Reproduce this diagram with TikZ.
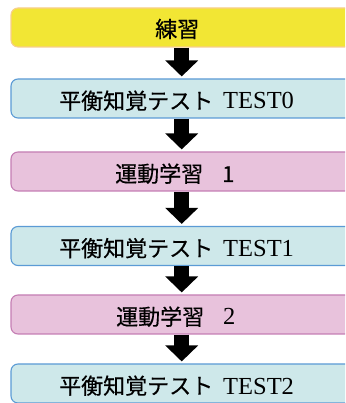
\documentclass[tikz,border=0pt]{standalone}
\usepackage{fontspec}
\setmainfont{Liberation Serif}
\newfontfamily\jpfont[FakeBold=0.5]{Noto Sans CJK JP}
\usetikzlibrary{arrows.meta,calc}
\definecolor{yfill}{HTML}{F2E634}
\definecolor{ydraw}{HTML}{F7CE8C}
\definecolor{bfill}{HTML}{CEE8EA}
\definecolor{bdraw}{HTML}{5B9BD5}
\definecolor{pfill}{HTML}{E8C2DC}
\definecolor{pdraw}{HTML}{C47DB3}
\newcommand\jtxt[1]{{\jpfont\fontsize{22}{26}\selectfont #1}}
\newcommand\etxt[1]{{\fontsize{24.5}{28}\selectfont #1}}
\begin{document}
\begin{tikzpicture}[x=1pt,y=1pt,
  box/.style={rectangle,rounded corners=7pt,minimum width=360pt,minimum height=39pt,line width=1.1pt,inner sep=0pt},
  ybox/.style={box,fill=yfill,draw=ydraw},
  bbox/.style={box,fill=bfill,draw=bdraw},
  pbox/.style={box,fill=pfill,draw=pdraw},
  txt/.style={inner sep=0pt,anchor=base west},
  fat/.style={line width=14.6pt,-{Triangle[width=32pt,length=16pt]}}
]
\clip (0,0) rectangle (345,403);
\useasboundingbox (0,0) rectangle (345,403);
\node[ybox] (b1) at (191,375.5) {};
\node[bbox] (b2) at (191,304.5) {};
\node[pbox] (b3) at (191,231.5) {};
\node[bbox] (b4) at (191,157) {};
\node[pbox] (b5) at (191,88.5) {};
\node[bbox] (b6) at (191,19.5) {};

\node[txt] (t1) at ($(b1.center)+(-36,-9.8)$) {\jtxt{練習}};
\node[txt] (t2) at ($(b2.center)+(-132,-10.5)$) {\jtxt{平衡知覚テスト}\hspace{10pt}\etxt{TEST0}};
\node[txt] (t3) at ($(b3.center)+(-76,-10.5)$) {\jtxt{運動学習\hspace{19pt}1}};
\node[txt] (t4) at ($(b4.center)+(-132,-10.5)$) {\jtxt{平衡知覚テスト}\hspace{10pt}\etxt{TEST1}};
\node[txt] (t5) at ($(b5.center)+(-75,-10.5)$) {\jtxt{運動学習}\hspace{19pt}\etxt{2}};
\node[txt] (t6) at ($(b6.center)+(-132,-10.5)$) {\jtxt{平衡知覚テスト}\hspace{10pt}\etxt{TEST2}};

\foreach \a/\b in {b1/b2,b2/b3,b3/b4,b4/b5,b5/b6}{
  \draw[fat] ([xshift=-9.3pt]\a.south) -- ([xshift=-9.3pt,yshift=2pt]\b.north);
}
\end{tikzpicture}
\end{document}
